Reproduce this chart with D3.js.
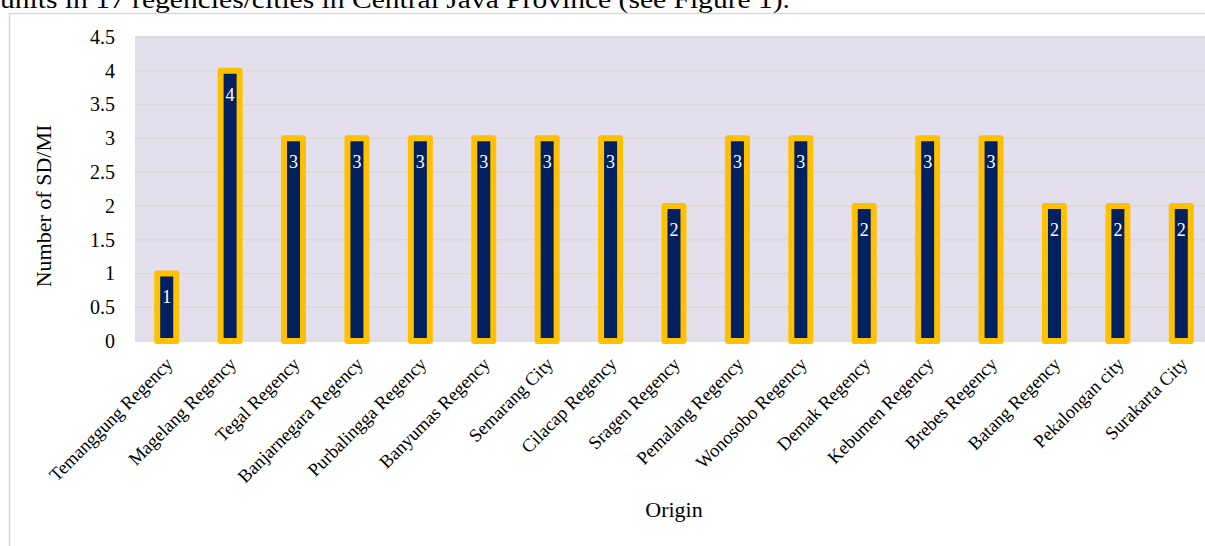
<!DOCTYPE html>
<html>
<head>
<meta charset="utf-8">
<script src="https://cdn.jsdelivr.net/npm/d3@7"></script>
<style>
  body { margin: 0; background: #fff; }
  svg { display: block; font-family: "Liberation Serif", "Times New Roman", serif; }
</style>
</head>
<body>
<div id="chart"></div>
<script>
// data
const regions = ["Temanggung Regency", "Magelang Regency", "Tegal Regency", "Banjarnegara Regency",
    "Purbalingga Regency", "Banyumas Regency", "Semarang City", "Cilacap Regency", "Sragen Regency",
    "Pemalang Regency", "Wonosobo Regency", "Demak Regency", "Kebumen Regency", "Brebes Regency",
    "Batang Regency", "Pekalongan city", "Surakarta City"];
const counts = [1, 4, 3, 3, 3, 3, 3, 3, 2, 3, 3, 2, 3, 3, 2, 2, 2];
const yTicks = [0, 0.5, 1, 1.5, 2, 2.5, 3, 3.5, 4, 4.5];

const width = 1205, height = 546;
const plot = {left: 135, right: 1213, top: 37, bottom: 341};

const svg = d3.select("#chart")
    .append("svg")
    .attr("width", width)
    .attr("height", height);

// bit of the paper text above the figure
svg.append("text")
    .attr("x", 0)
    .attr("y", 8)
    .attr("font-size", 25)
    .attr("textLength", 790)
    .attr("lengthAdjust", "spacingAndGlyphs")
    .text("units in 17 regencies/cities in Central Java Province (see Figure 1).");

// chart frame
svg.append("rect")
    .attr("x", 9.5)
    .attr("y", 13.5)
    .attr("width", width + 20)
    .attr("height", height + 20)
    .attr("fill", "none")
    .attr("stroke", "#d9d9d9")
    .attr("stroke-width", 1.5);

const xScale = d3.scaleBand()
    .domain(regions)
    .range([plot.left, plot.right]);

const yScale = d3.scaleLinear()
    .domain([0, 4.5])
    .range([plot.bottom, plot.top]);

svg.append("rect")
    .attr("x", plot.left)
    .attr("y", plot.top - 1)
    .attr("width", plot.right - plot.left)
    .attr("height", plot.bottom - plot.top + 1)
    .attr("fill", "#e4dfec");

// gridlines
svg.append("g")
    .selectAll("line")
    .data(yTicks)
    .enter()
    .append("line")
    .attr("x1", plot.left)
    .attr("x2", plot.right)
    .attr("y1", d => yScale(d))
    .attr("y2", d => yScale(d))
    .attr("stroke", "#d9d9d9")
    .attr("stroke-width", 1.5);

// y axis labels
const yAxis = d3.axisLeft(yScale)
    .tickValues(yTicks)
    .tickSize(0)
    .tickPadding(20)
    .tickFormat(d => String(d));

svg.append("g")
    .attr("transform", "translate(" + plot.left + ",0)")
    .call(yAxis)
    .call(g => g.select(".domain").remove())
    .selectAll("text")
    .attr("font-family", "Liberation Serif")
    .attr("font-size", 20)
    .attr("fill", "#000");

// bars
const barW = 19;
svg.append("g")
    .selectAll("rect")
    .data(counts)
    .enter()
    .append("rect")
    .attr("x", (d, i) => xScale(regions[i]) + xScale.bandwidth() / 2 - barW / 2)
    .attr("y", d => yScale(d))
    .attr("width", barW)
    .attr("height", d => yScale(0) - yScale(d))
    .attr("fill", "#002060")
    .attr("stroke", "#ffc000")
    .attr("stroke-width", 6)
    .attr("stroke-linejoin", "round");

// value labels
svg.append("g")
    .selectAll("text")
    .data(counts)
    .enter()
    .append("text")
    .attr("x", (d, i) => xScale(regions[i]) + xScale.bandwidth() / 2)
    .attr("y", d => yScale(d) + 30)
    .attr("text-anchor", "middle")
    .attr("font-size", 18)
    .attr("fill", "#fff")
    .text(d => d);

// x labels, rotated
svg.append("g")
    .selectAll("text")
    .data(regions)
    .enter()
    .append("text")
    .attr("transform", d => "translate(" + (xScale(d) + xScale.bandwidth() / 2 - 2) + ",356) rotate(-45)")
    .attr("text-anchor", "end")
    .attr("dy", "0.7em")
    .attr("font-size", 18.5)
    .attr("fill", "#000")
    .text(d => d);

// axis titles
svg.append("text")
    .attr("transform", "translate(51,206) rotate(-90)")
    .attr("text-anchor", "middle")
    .attr("font-size", 22)
    .text("Number of SD/MI");

svg.append("text")
    .attr("x", 674)
    .attr("y", 517)
    .attr("text-anchor", "middle")
    .attr("font-size", 22)
    .text("Origin");
</script>
</body>
</html>
